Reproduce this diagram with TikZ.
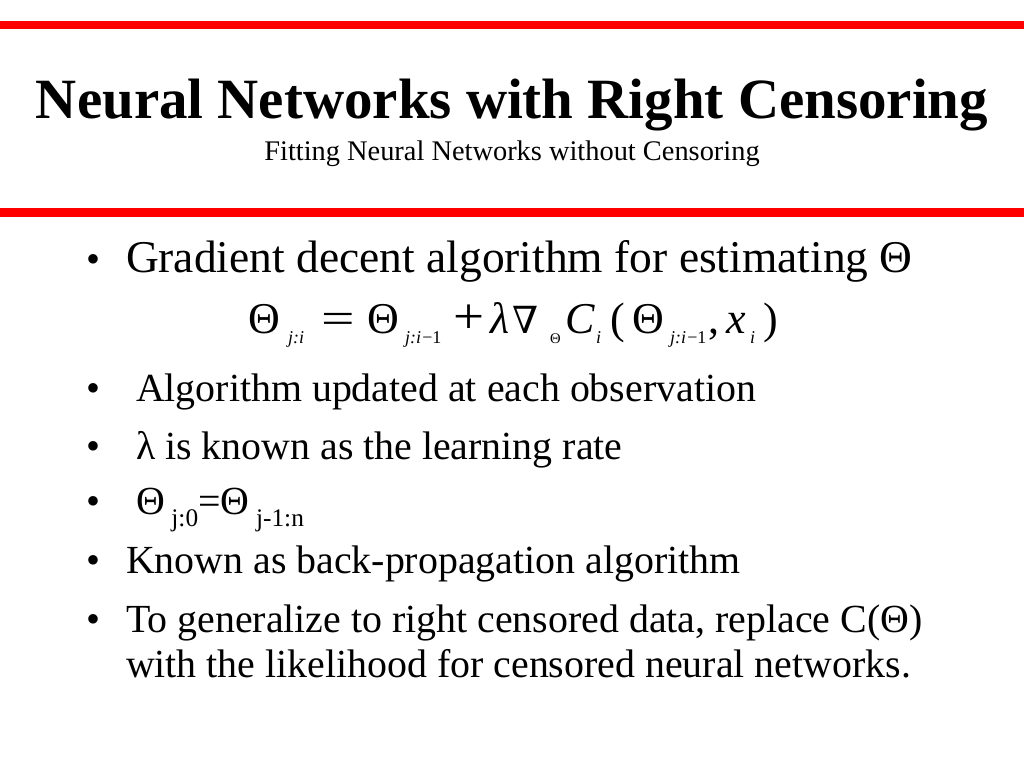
\documentclass[tikz,border=0pt]{standalone}
\usepackage{fontspec}
\setmainfont{Liberation Serif}
\newfontfamily\dvserif{DejaVu Serif}
\begin{document}
\begin{tikzpicture}[x=0.75pt,y=-0.75pt,
  txt/.style={anchor=base west,inner sep=0pt,outer sep=0pt},
  ttl/.style={anchor=base,inner sep=0pt,font=\fontsize{42.7}{48}\selectfont\bfseries},
  sub/.style={anchor=base,inner sep=0pt,font=\fontsize{21.3}{24}\selectfont},
  big/.style={txt,font=\fontsize{34.1}{40}\selectfont},
  body/.style={txt,font=\fontsize{29.9}{36}\selectfont},
  eqm/.style={txt,font=\fontsize{33}{38}\selectfont},
  eqs/.style={txt,font=\fontsize{13.5}{16}\selectfont\itshape},
  dot/.style={txt,font=\fontsize{29.9}{36}\selectfont}]
\useasboundingbox (0,0) rectangle (1024,768);
\fill[white] (0,0) rectangle (1024,768);
% red bars
\fill[red] (0,21) rectangle (1024,29);
\fill[red] (0,208) rectangle (1024,217);
% title
\node[ttl] (title) at (512,118) {Neural Networks with Right Censoring};
\node[sub] (subtitle) at (512,160) {Fitting Neural Networks without Censoring};
% bullet 1
\node[dot] (b1) at (86,272) {•};
\node[big] (t1) at (126,272) {Gradient decent algorithm for estimating Θ};
% equation
\node[eqm] (e1) at (248,333) {Θ};
\node[eqs] (e2) at (288,343) {j:i};
\node[eqm] (e3) at (321,333) {\scalebox{1.35}[1]{=}};
\node[eqm] (e4) at (367,333) {Θ};
\node[eqs] (e5) at (405,343) {j:i\kern1pt\upshape−1};
\node[eqm] (e6) at (453,333) {\scalebox{1.25}[1.15]{+}};
\node[eqm] (e7) at (490,333) {\itshape λ};
\node[eqm] (e8) at (512,333) {\fontsize{28}{32}\selectfont\dvserif ∇};
\node[eqs] (e9) at (550,343) {\upshape\fontsize{11}{12}\selectfont Θ};
\node[eqm] (e10) at (565,333) {\itshape C};
\node[eqs] (e11) at (596,343) {i};
\node[eqm] (e12) at (610,333) {(};
\node[eqm] (e13) at (632,333) {Θ};
\node[eqs] (e14) at (670,343) {j:i\kern1pt\upshape−1};
\node[eqm] (e15) at (708,333) {,};
\node[eqm] (e16) at (726,333) {\itshape x};
\node[eqs] (e17) at (750,343) {i};
\node[eqm] (e18) at (763,333) {)};
% sub bullets
\node[dot] (b2) at (86,401) {•};
\node[body] (t2) at (136,401) {Algorithm updated at each observation};
\node[dot] (b3) at (86,459) {•};
\node[body] (t3) at (136,459) {λ is known as the learning rate};
\node[dot] (b4) at (86,514) {•};
\node[body] (t4) at (136,514) {Θ\,\raisebox{-9pt}{\fontsize{19}{20}\selectfont j:0}=Θ\,\raisebox{-9pt}{\fontsize{19}{20}\selectfont j-1:n}};
\node[dot] (b5) at (86,573) {•};
\node[body] (t5) at (126,573) {Known as back-propagation algorithm};
\node[dot] (b6) at (86,632) {•};
\node[body] (t6) at (126,632) {To generalize to right censored data, replace C(Θ)};
\node[body] (t7) at (126,677) {with the likelihood for censored neural networks.};
\end{tikzpicture}
\end{document}
